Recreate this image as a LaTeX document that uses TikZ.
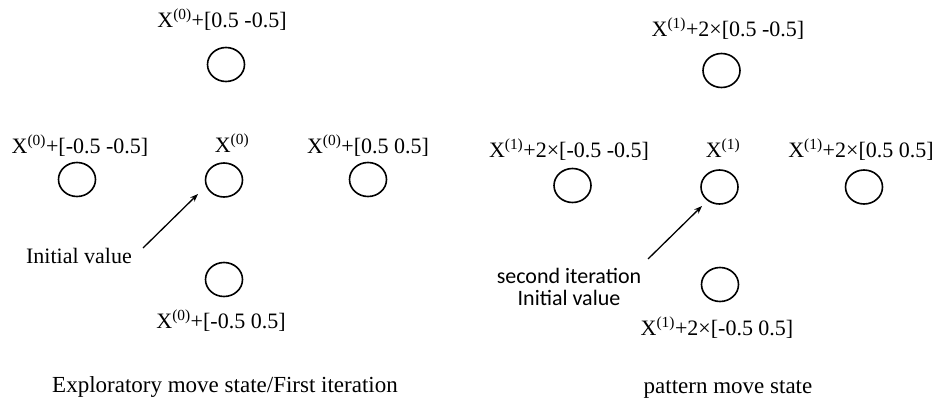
\documentclass[tikz,border=0pt]{standalone}
\usepackage{fontspec}
\setmainfont{Liberation Serif}
\newfontfamily\labelsans{Carlito}
\usetikzlibrary{shapes.geometric,arrows.meta}
\begin{document}
\begin{tikzpicture}[x=1pt,y=-1pt,
  pt/.style={draw, ellipse, line width=1.6pt, minimum width=37pt,
    minimum height=34pt, inner sep=0pt},
  lbl/.style={font=\fontsize{22}{26}\selectfont, inner sep=0pt, anchor=base},
  caption/.style={font=\fontsize{23}{27}\selectfont, inner sep=0pt, anchor=base},
  note/.style={font=\labelsans\fontsize{22}{22}\selectfont, inner sep=0pt,
    align=center, anchor=base},
  pointer/.style={line width=1.3pt, -{Stealth[length=8pt,width=6pt]}}
]
\useasboundingbox (0,0) rectangle (941,407);

% ---- exploratory move ----
\node[pt] (a0) at (224,180) {};
\node[pt] (aT) at (226,64.5) {};
\node[pt] (aL) at (77,179.5) {};
\node[pt] (aR) at (368,179.5) {};
\node[pt] (aB) at (224,279.5) {};

\node[lbl] (la0) at (232,152) {X\textsuperscript{(0)}};
\node[lbl] (laT) at (222,27) {X\textsuperscript{(0)}+[0.5 -0.5]};
\node[lbl] (laL) at (80,153) {X\textsuperscript{(0)}+[-0.5 -0.5]};
\node[lbl] (laR) at (368,153) {X\textsuperscript{(0)}+[0.5 0.5]};
\node[lbl] (laB) at (221,328) {X\textsuperscript{(0)}+[-0.5 0.5]};

\node[lbl] (ainit) at (79,263) {Initial value};
\coordinate (atail) at (143,248);
\coordinate (ahead) at (198,194);
\draw[pointer] (atail) -- (ahead);

\node[caption] (acap) at (225,392) {Exploratory move state/First iteration};

% ---- pattern move ----
\node[pt] (b0) at (719.5,187) {};
\node[pt] (bT) at (721.5,70.5) {};
\node[pt] (bL) at (572.5,185.5) {};
\node[pt] (bR) at (864,187) {};
\node[pt] (bB) at (720,284.5) {};

\node[lbl] (lb0) at (723,157) {X\textsuperscript{(1)}};
\node[lbl] (lbT) at (728,36) {X\textsuperscript{(1)}+2×[0.5 -0.5]};
\node[lbl] (lbL) at (569,157) {X\textsuperscript{(1)}+2×[-0.5 -0.5]};
\node[lbl] (lbR) at (861,157) {X\textsuperscript{(1)}+2×[0.5 0.5]};
\node[lbl] (lbB) at (717,335) {X\textsuperscript{(1)}+2×[-0.5 0.5]};

\node[note] (binit1) at (569,283) {second iteration};
\node[note] (binit2) at (569,305) {Initial value};
\coordinate (btail) at (648,259);
\coordinate (bhead) at (702,206);
\draw[pointer] (btail) -- (bhead);

\node[caption] (bcap) at (728,393) {pattern move state};
\end{tikzpicture}
\end{document}
